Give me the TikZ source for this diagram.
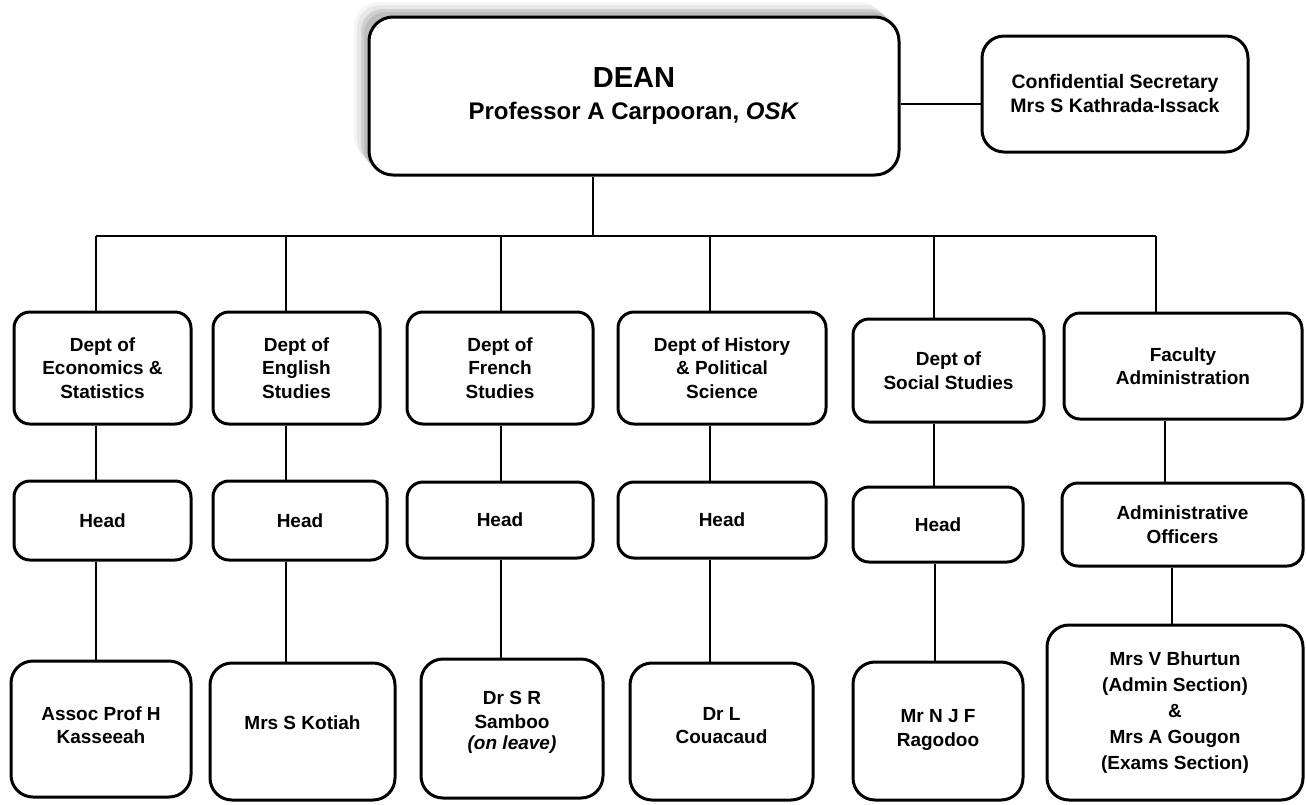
\documentclass[tikz,border=0pt]{standalone}
\usepackage{fontspec}
\setmainfont{Liberation Sans}
\begin{document}
\begin{tikzpicture}[x=1pt,y=-1pt,
  box/.style={draw, line width=3pt, rounded corners=16pt, fill=white, align=center, inner sep=0pt,
    font=\bfseries\fontsize{19}{23.5}\selectfont},
  bigbox/.style={box, rounded corners=22pt},
  conn/.style={line width=1.4pt}]
\useasboundingbox (0,0) rectangle (1306,804);
% shadow of the DEAN box
\fill[gray!8, rounded corners=24pt] (354,2) rectangle (884,160);
\fill[gray!18, rounded corners=23pt] (357,5) rectangle (887,163);
\fill[gray!38, rounded corners=22pt] (361,9) rectangle (891,167);
\fill[gray!52, rounded corners=22pt] (364,12) rectangle (894,170);
% nodes
\node[bigbox, rounded corners=24pt, minimum width=530pt, minimum height=158pt, font=\bfseries\fontsize{24}{32}\selectfont] (dean) at (634,96)
  {{\fontsize{29}{32}\selectfont DEAN}\\Professor A Carpooran, \textit{OSK}};
\node[bigbox, minimum width=266pt, minimum height=116pt, font=\bfseries\fontsize{19.5}{24}\selectfont] (conf) at (1115,94)
  {Confidential Secretary\\Mrs S Kathrada-Issack};
\node[box, minimum width=177pt, minimum height=112pt] (dp1) at (102.5,368) {Dept of\\Economics \&\\Statistics};
\node[box, minimum width=167pt, minimum height=112pt] (dp2) at (296.5,368) {Dept of\\English\\Studies};
\node[box, minimum width=186pt, minimum height=112pt] (dp3) at (500,368) {Dept of\\French\\Studies};
\node[box, minimum width=208pt, minimum height=112pt] (dp4) at (722,368) {Dept of History\\\& Political\\Science};
\node[box, minimum width=191pt, minimum height=103pt] (dp5) at (948.5,370.5) {Dept of\\Social Studies};
\node[box, minimum width=238pt, minimum height=106pt] (dp6) at (1183,366) {Faculty\\Administration};
\node[box, minimum width=177pt, minimum height=79pt] (hd1) at (102.5,520.5) {Head};
\node[box, minimum width=174pt, minimum height=79pt] (hd2) at (300,520.5) {Head};
\node[box, minimum width=186pt, minimum height=76pt] (hd3) at (500,520) {Head};
\node[box, minimum width=208pt, minimum height=76pt] (hd4) at (722,520) {Head};
\node[box, minimum width=170pt, minimum height=75pt] (hd5) at (938,524.5) {Head};
\node[box, minimum width=241pt, minimum height=83pt] (hd6) at (1182.5,524.5) {Administrative\\Officers};
\node[bigbox, minimum width=180pt, minimum height=136pt, text depth=8pt] (bt1) at (101,729) {Assoc Prof H\\Kasseeah};
\node[bigbox, minimum width=185pt, minimum height=137pt, text depth=18pt] (bt2) at (302.5,731.5) {Mrs S Kotiah};
\node[bigbox, minimum width=182pt, minimum height=139pt, text depth=16pt] (bt3) at (512,728.5) {Dr S R\\Samboo\\[-2pt]\textit{(on leave)}};
\node[bigbox, minimum width=183pt, minimum height=137pt, text depth=12pt] (bt4) at (721.5,731.5) {Dr L\\Couacaud};
\node[bigbox, minimum width=170pt, minimum height=138pt, text depth=6pt] (bt5) at (938,731) {Mr N J F\\Ragodoo};
\node[bigbox, minimum width=256pt, minimum height=175pt, font=\bfseries\fontsize{19}{26}\selectfont] (bt6) at (1175,712.5)
  {Mrs V Bhurtun\\(Admin Section)\\\&\\Mrs A Gougon\\(Exams Section)};
% coordinates for the vertical connector lines
\coordinate (dd) at (593,236);
\coordinate (cs) at (940,104);
\coordinate (d1) at (96,236);
\coordinate (d2) at (286,236);
\coordinate (d3) at (501,236);
\coordinate (d4) at (710,236);
\coordinate (d5) at (934,236);
\coordinate (d6) at (1156,236);
\coordinate (e6) at (1165,0);
\coordinate (f5) at (935,0);
\coordinate (f6) at (1172,0);
% connectors
\draw[conn] (dean.south -| dd) -- (dd);
\draw[conn] (dean.east |- cs) -- (conf.west |- cs);
\draw[conn] (d1) -- (d6);
\foreach \i in {1,...,6} {
  \draw[conn] (d\i) -- (dp\i.north -| d\i);
}
\foreach \i in {1,...,5} {
  \draw[conn] (dp\i.south -| d\i) -- (hd\i.north -| d\i);
}
\draw[conn] (dp6.south -| e6) -- (hd6.north -| e6);
\foreach \i in {1,...,4} {
  \draw[conn] (hd\i.south -| d\i) -- (bt\i.north -| d\i);
}
\draw[conn] (hd5.south -| f5) -- (bt5.north -| f5);
\draw[conn] (hd6.south -| f6) -- (bt6.north -| f6);
\end{tikzpicture}
\end{document}
